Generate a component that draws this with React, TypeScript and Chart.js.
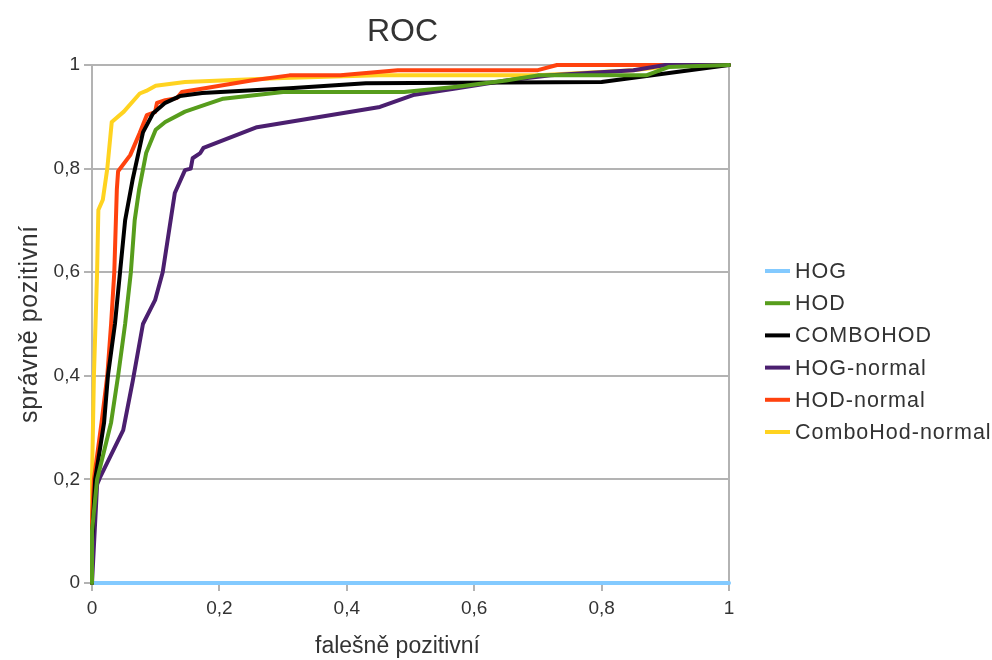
import React, { useEffect, useRef } from "react";
import { Chart, registerables } from "chart.js";

Chart.register(...registerables);

// ROC curves: [false positive rate, true positive rate]
const hog: [number, number][] = [
  [0, 0], [1, 0],
];
const hod: [number, number][] = [
  [0, 0], [0, 0.1], [0.008, 0.2], [0.03, 0.31], [0.041, 0.4], [0.052, 0.5],
  [0.061, 0.6], [0.067, 0.7], [0.074, 0.76], [0.085, 0.83], [0.1, 0.875],
  [0.115, 0.89], [0.146, 0.91], [0.177, 0.923], [0.206, 0.935], [0.3, 0.948],
  [0.49, 0.948], [0.573, 0.958], [0.65, 0.97], [0.7, 0.98], [0.87, 0.98],
  [0.905, 0.996], [1, 1],
];
const comboHod: [number, number][] = [
  [0, 0], [0, 0.08], [0.005, 0.2], [0.019, 0.31], [0.025, 0.4], [0.036, 0.5],
  [0.044, 0.6], [0.052, 0.7], [0.064, 0.78], [0.08, 0.87], [0.096, 0.907],
  [0.115, 0.927], [0.138, 0.94], [0.173, 0.946], [0.31, 0.955], [0.43, 0.965],
  [0.8, 0.967], [1, 1],
];
const hogNormal: [number, number][] = [
  [0, 0], [0.008, 0.19], [0.013, 0.205], [0.049, 0.295], [0.064, 0.39],
  [0.08, 0.5], [0.099, 0.546], [0.111, 0.6], [0.13, 0.753], [0.146, 0.797],
  [0.155, 0.8], [0.158, 0.82], [0.17, 0.83], [0.175, 0.84], [0.259, 0.88],
  [0.452, 0.919], [0.504, 0.942], [0.573, 0.955], [0.65, 0.97], [0.72, 0.98],
  [0.85, 0.99], [0.9, 1], [1, 1],
];
const hodNormal: [number, number][] = [
  [0, 0], [0, 0.12], [0.003, 0.2], [0.015, 0.31], [0.024, 0.4], [0.03, 0.5],
  [0.035, 0.6], [0.039, 0.76], [0.041, 0.795], [0.06, 0.826], [0.075, 0.869],
  [0.086, 0.903], [0.099, 0.909], [0.102, 0.927], [0.115, 0.932],
  [0.133, 0.936], [0.141, 0.948], [0.177, 0.955], [0.25, 0.97], [0.31, 0.98],
  [0.39, 0.98], [0.48, 0.99], [0.7, 0.99], [0.73, 1], [1, 1],
];
const comboHodNormal: [number, number][] = [
  [0, 0], [0, 0.2], [0.003, 0.4], [0.008, 0.6], [0.01, 0.72], [0.017, 0.74],
  [0.024, 0.8], [0.031, 0.89], [0.05, 0.91], [0.075, 0.945], [0.085, 0.95],
  [0.1, 0.96], [0.146, 0.967], [0.3, 0.975], [0.45, 0.98], [0.7, 0.98],
  [0.85, 0.99], [0.92, 1], [1, 1],
];

const SERIES = [hog, hod, comboHod, hogNormal, hodNormal, comboHodNormal];
const SERIES_NAMES = ["HOG", "HOD", "COMBOHOD", "HOG-normal", "HOD-normal", "ComboHod-normal"];
const SERIES_COLORS = ["#83caff", "#579d1c", "#000000", "#4b1f6f", "#ff420e", "#ffd320"];
// lower number is painted on top
const DRAW_ORDER = [6, 0, 1, 2, 3, 4];

const AXIS_TICKS = [0, 0.2, 0.4, 0.6, 0.8, 1];
const AXIS_TICK_LABELS = ["0", "0,2", "0,4", "0,6", "0,8", "1"];

const TITLE = "ROC";
const X_TITLE = "falešně pozitivní";
const Y_TITLE = "správně pozitivní";

const FONT = '"Liberation Sans", Arial, sans-serif';
const TEXT = "#333333";
const GRID = "#b3b3b3";

const labelsPlugin = {
  id: "rocLabels",
  afterDraw(chart: any) {
    const { ctx, chartArea } = chart;
    const { left, right, top, bottom } = chartArea;
    ctx.save();
    ctx.fillStyle = TEXT;

    // chart title
    ctx.font = `32px ${FONT}`;
    ctx.textAlign = "center";
    ctx.textBaseline = "middle";
    ctx.fillText(TITLE, (left + right) / 2 - 8, top - 33);

    // x axis title
    ctx.font = `23px ${FONT}`;
    ctx.fillText(X_TITLE, (left + right) / 2 - 13, bottom + 64);

    // y axis title
    ctx.save();
    ctx.translate(30, (top + bottom) / 2);
    ctx.rotate(-Math.PI / 2);
    (ctx as any).letterSpacing = "0.6px";
    ctx.font = `25px ${FONT}`;
    ctx.fillText(Y_TITLE, 0, 0);
    ctx.restore();

    // legend
    (ctx as any).letterSpacing = "1px";
    ctx.font = `21.5px ${FONT}`;
    ctx.textAlign = "left";
    chart.data.datasets.forEach((ds: any, i: number) => {
      const y = top + 206 + i * 32.2;
      ctx.strokeStyle = ds.borderColor;
      ctx.lineWidth = 4;
      ctx.lineCap = "butt";
      ctx.beginPath();
      ctx.moveTo(right + 36, y);
      ctx.lineTo(right + 61, y);
      ctx.stroke();
      ctx.fillStyle = TEXT;
      ctx.fillText(ds.label, right + 66, y + 1);
    });
    ctx.restore();
  },
};

export default function App() {
  const canvasRef = useRef<HTMLCanvasElement | null>(null);

  useEffect(() => {
    document.body.style.margin = "0";
    const canvas = canvasRef.current;
    if (!canvas) return;

    const tickFont = { family: FONT, size: 19 };

    const chart = new Chart(canvas, {
      type: "line",
      data: {
        datasets: SERIES.map((points, i) => ({
          label: SERIES_NAMES[i],
          data: points.map(([x, y]) => ({ x, y })),
          borderColor: SERIES_COLORS[i],
          backgroundColor: SERIES_COLORS[i],
          borderWidth: 4,
          pointRadius: 0,
          pointHoverRadius: 0,
          tension: 0,
          fill: false,
          clip: 8,
          order: DRAW_ORDER[i],
          borderJoinStyle: "round",
          borderCapStyle: "round",
        })),
      },
      options: {
        responsive: false,
        animation: false,
        events: [],
        layout: {
          autoPadding: false,
          padding: { left: 0, top: 65, right: 263, bottom: 0 },
        },
        plugins: {
          legend: { display: false },
          title: { display: false },
          tooltip: { enabled: false },
        },
        scales: {
          x: {
            type: "linear",
            min: 0,
            max: 1,
            afterFit: (s: any) => {
              s.height = 77;
            },
            afterBuildTicks: (s: any) => {
              s.ticks = AXIS_TICKS.map((v) => ({ value: v }));
            },
            ticks: {
              callback: (_v: any, i: number) => AXIS_TICK_LABELS[i],
              font: tickFont,
              color: TEXT,
              padding: 6,
              maxRotation: 0,
              autoSkip: false,
            },
            grid: {
              color: (c: any) => (c.tick && c.tick.value === 1 ? GRID : "rgba(0,0,0,0)"),
              tickColor: GRID,
              lineWidth: 2,
              tickLength: 8,
            },
            border: { display: true, color: GRID, width: 2 },
          },
          y: {
            type: "linear",
            min: 0,
            max: 1,
            afterFit: (s: any) => {
              s.width = 92;
            },
            afterBuildTicks: (s: any) => {
              s.ticks = AXIS_TICKS.map((v) => ({ value: v }));
            },
            ticks: {
              callback: (_v: any, i: number) => AXIS_TICK_LABELS[i],
              font: tickFont,
              color: TEXT,
              padding: 4,
              autoSkip: false,
            },
            grid: {
              color: GRID,
              tickColor: GRID,
              lineWidth: 2,
              tickLength: 8,
            },
            border: { display: true, color: GRID, width: 2 },
          },
        },
      },
      plugins: [labelsPlugin],
    } as any);

    return () => chart.destroy();
  }, []);

  return (
    <div style={{ width: 992, height: 660, background: "#ffffff" }}>
      <canvas ref={canvasRef} width={992} height={660} style={{ display: "block" }} />
    </div>
  );
}
